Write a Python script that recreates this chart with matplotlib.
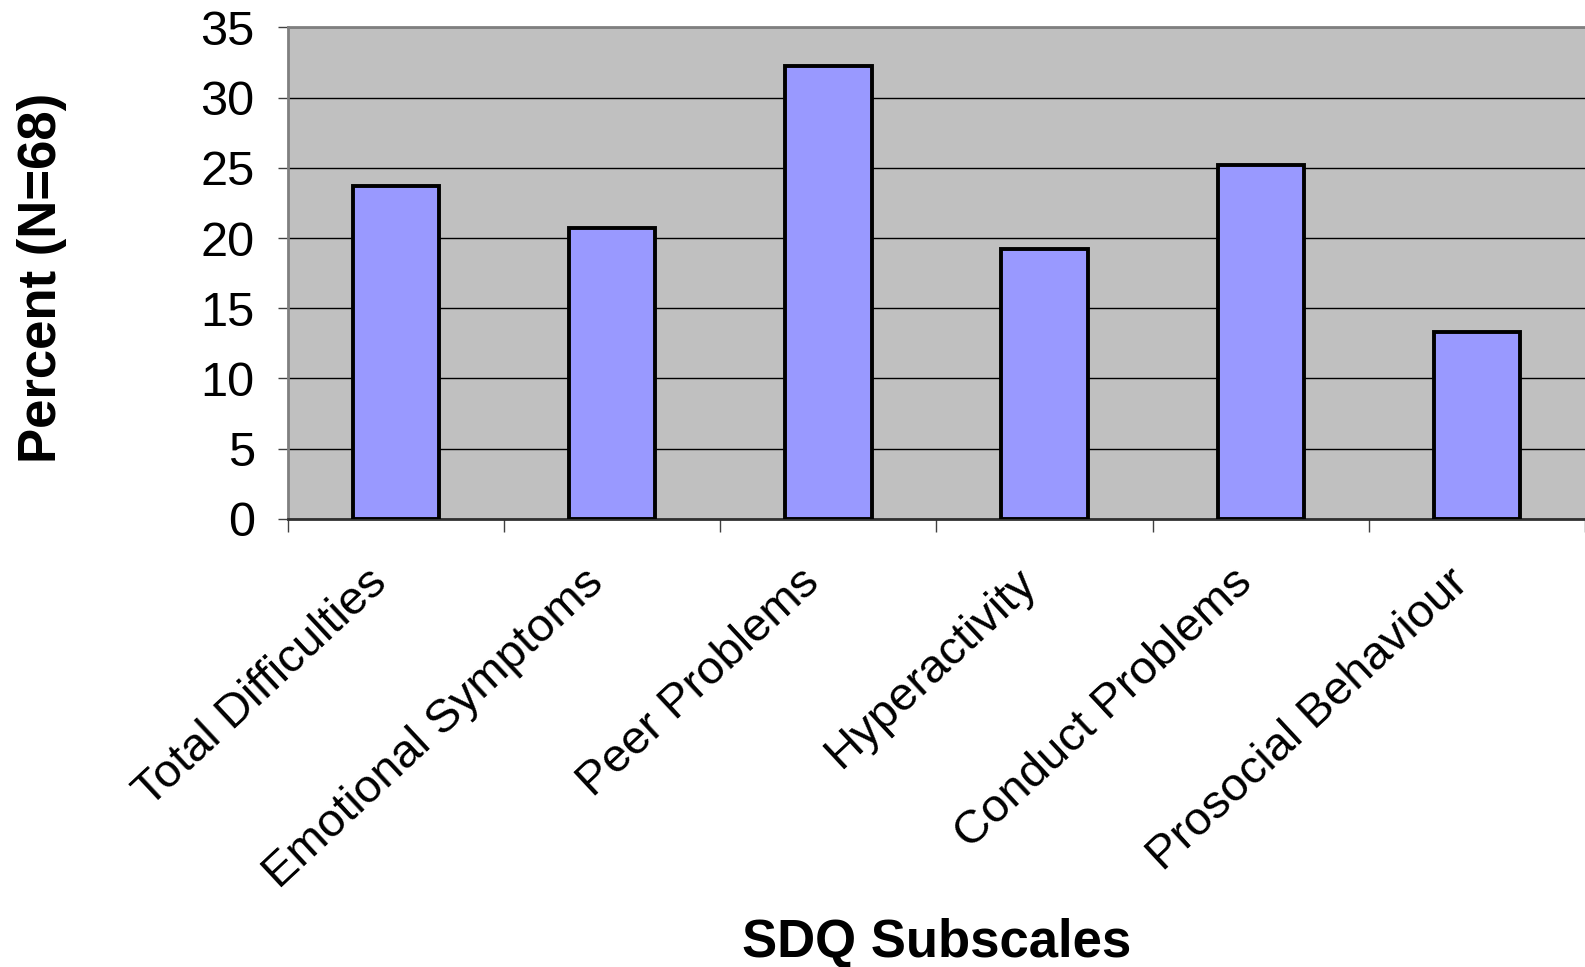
import numpy as np
import matplotlib.pyplot as plt

plt.rcParams['font.family'] = ['Liberation Sans', 'DejaVu Sans']

# SDQ subscale data
categories = ['Total Difficulties', 'Emotional Symptoms', 'Peer Problems',
              'Hyperactivity', 'Conduct Problems', 'Prosocial Behaviour']
percent = [23.7, 20.7, 32.25, 19.2, 25.2, 13.3]
y_ticks = [0, 5, 10, 15, 20, 25, 30, 35]

fig = plt.figure(figsize=(15.85, 9.67), dpi=100)
ax = fig.add_axes([0.1817, 0.4633, 0.8183, 0.5085])
ax.set_facecolor('#C0C0C0')

x = np.arange(len(categories))
ax.bar(x, percent, width=0.4, color='#9999FF', edgecolor='black',
       linewidth=2.8, zorder=3)

# Formatting
ax.set_xlim(-0.5, len(categories) - 0.5)
ax.set_ylim(0, 35)
ax.set_yticks(y_ticks)
ax.set_yticklabels([str(t) for t in y_ticks], fontsize=35)
ax.tick_params(axis='y', length=7, width=1, pad=17, color='#404040')

ax.set_xticks(np.arange(len(categories) + 1) - 0.5)
ax.set_xticklabels([])
ax.tick_params(axis='x', length=9, width=1, color='#404040')
ax.set_xticks(x, minor=True)
ax.set_xticklabels(categories, minor=True, rotation=43, ha='right',
                   va='bottom', rotation_mode='anchor', fontsize=34)
ax.tick_params(axis='x', which='minor', length=0, pad=53)

ax.yaxis.grid(True, color='black', linewidth=1)
ax.set_axisbelow(True)

for side in ['top', 'left']:
    ax.spines[side].set_color('#808080')
    ax.spines[side].set_linewidth(2)
ax.spines['bottom'].set_color('#303030')
ax.spines['bottom'].set_linewidth(2)
ax.spines['right'].set_visible(False)

ax.set_ylabel('Percent (N=68)', fontsize=38, fontweight='bold')
ax.yaxis.set_label_coords(-0.19, 0.49)
ax.set_xlabel('SDQ Subscales', fontsize=38, fontweight='bold')
ax.xaxis.set_label_coords(0.5, -0.863)
ax.xaxis.label.set_va('center')
ax.yaxis.label.set_va('center')

fig.savefig('out.png', dpi=100)
